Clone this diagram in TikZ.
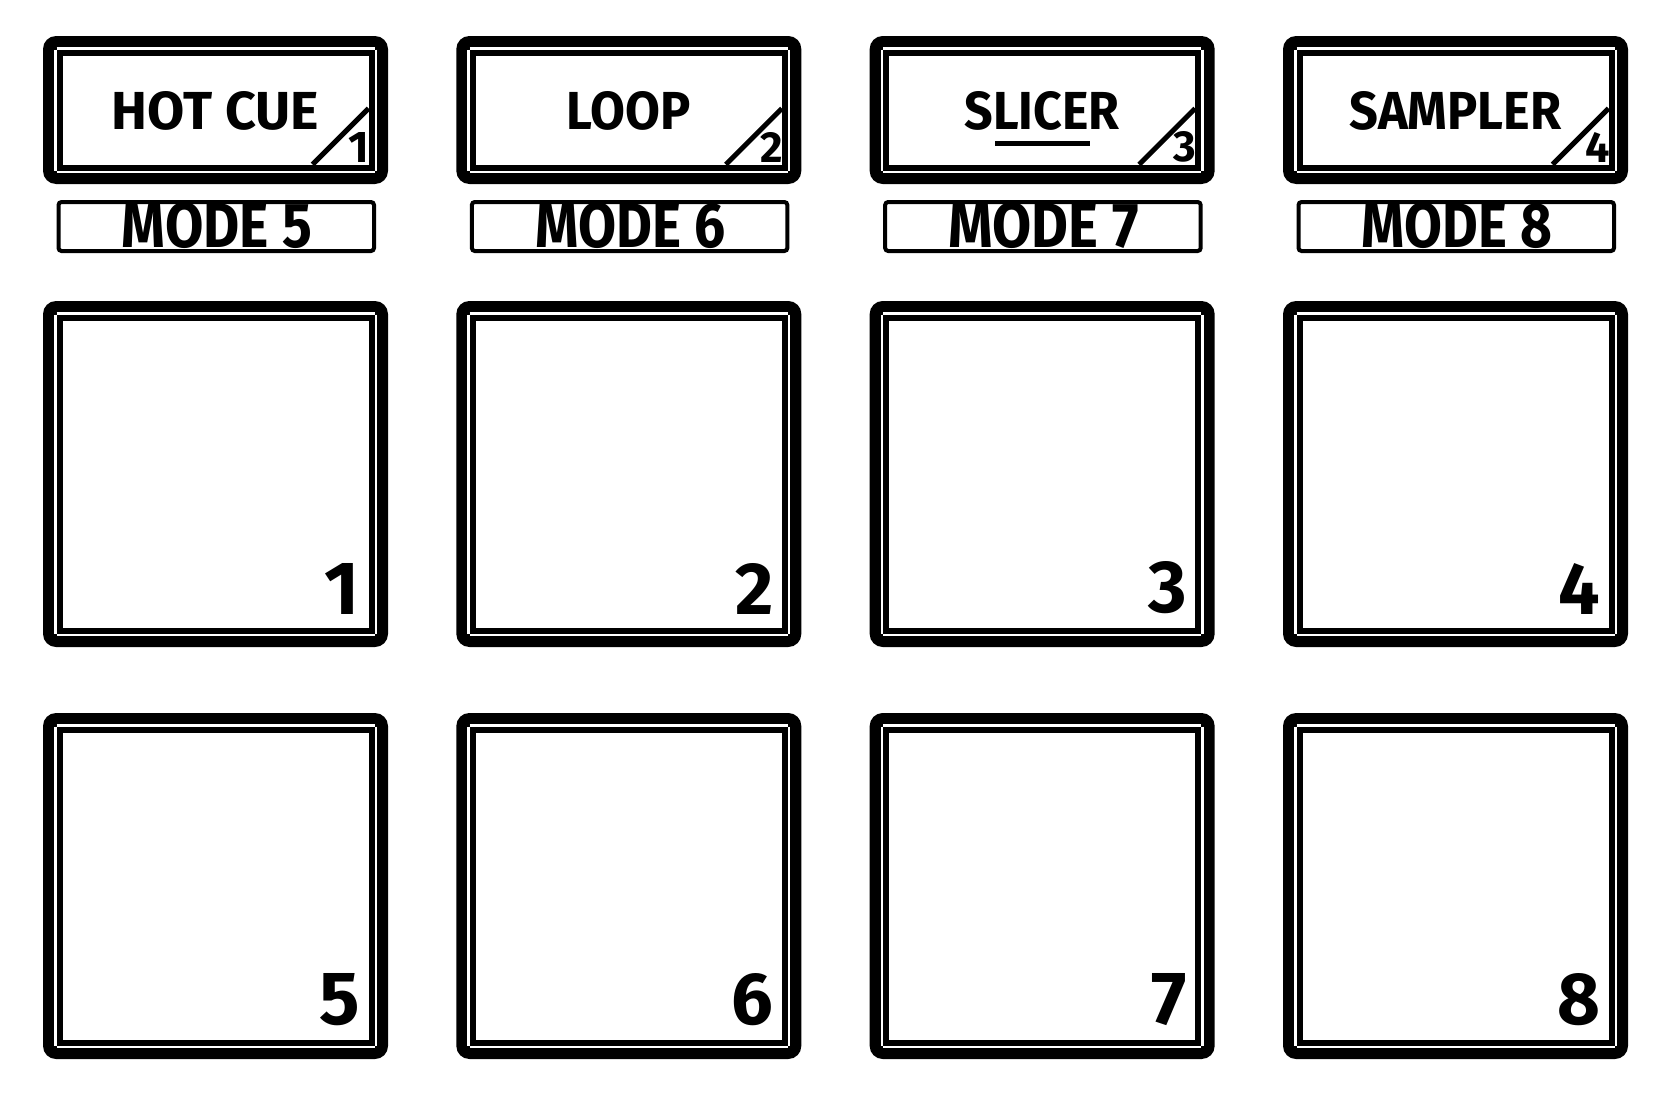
\documentclass[tikz,border=0pt]{standalone}
\usepackage{fontspec}
\setmainfont{Fira Sans}
\usepackage{graphicx}
\def\drawframe#1#2#3#4{%
  \fill[black, rounded corners=13pt] (#1,#2) rectangle (#1+#3,#2+#4);
  \fill[white] (#1+19.5,#2+19.5) rectangle (#1+#3-19.5,#2+#4-19.5);
}
\def\drawgaps#1#2#3#4{%
  \draw[gapline] (#1+13.5,#2+12.25) -- (#1+#3-13.5,#2+12.25);
  \draw[gapline] (#1+13.5,#2+#4-12.25) -- (#1+#3-13.5,#2+#4-12.25);
  \draw[gapline] (#1+12.25,#2+13.5) -- (#1+12.25,#2+#4-13.5);
  \draw[gapline] (#1+#3-12.25,#2+13.5) -- (#1+#3-12.25,#2+#4-13.5);
}
\begin{document}
\begin{tikzpicture}[x=1pt,y=-1pt,
  txt/.style={inner sep=0pt, outer sep=0pt, font=\bfseries},
  gapline/.style={draw=white, line width=2.5pt},
  modebox/.style={draw=black, line width=4pt, rounded corners=3pt},
  diagline/.style={draw=black, line width=5pt},
]
\useasboundingbox[fill=white] (0,0) rectangle (1678,1092);

% top buttons
\foreach \i/\lab/\w in {0/HOT CUE/207, 1/LOOP/124, 2/SLICER/155, 3/SAMPLER/212}{
  \pgfmathsetmacro\lx{43+413.333*\i}
  \pgfmathsetmacro\cx{\lx+172.5}
  \pgfmathsetmacro\ri{\lx+345-19.5}
  \pgfmathtruncatemacro\num{\i+1}
  \pgfmathtruncatemacro\mnum{\i+5}
  \drawframe{\lx}{36}{345}{148}
  \coordinate (d\i a) at (\ri-56,164.5);
  \coordinate (d\i b) at (\ri,108.5);
  \draw[diagline] (d\i a) -- (d\i b);
  \drawgaps{\lx}{36}{345}{148}
  \node[txt, name=btn\i] at (\cx,110.5) {\resizebox{\w pt}{38pt}{\bfseries \lab}};
  \node[txt, anchor=south east, name=bnum\i] at (\ri+1,162) {\resizebox{!}{30pt}{\bfseries \num}};
  % mode label
  \draw[modebox] (\lx+15.5,202) rectangle (\lx+331,251);
  \node[txt, name=mode\i] at (\cx+1.5,226) {\resizebox{190pt}{45pt}{\bfseries MODE \mnum}};
}
% SLICER underline
\fill[black] (995,141) rectangle (1090,146);

% pads
\foreach \r/\ty in {0/301, 1/713}{
  \foreach \i in {0,1,2,3}{
    \pgfmathsetmacro\lx{43+413.333*\i}
    \pgfmathtruncatemacro\pn{\r*4+\i+1}
    \drawframe{\lx}{\ty}{345}{346}
    \drawgaps{\lx}{\ty}{345}{346}
    \node[txt, anchor=south east, name=pad\pn] at (\lx+345-28,\ty+346-33) {\resizebox{!}{51pt}{\bfseries \pn}};
  }
}
\end{tikzpicture}
\end{document}
